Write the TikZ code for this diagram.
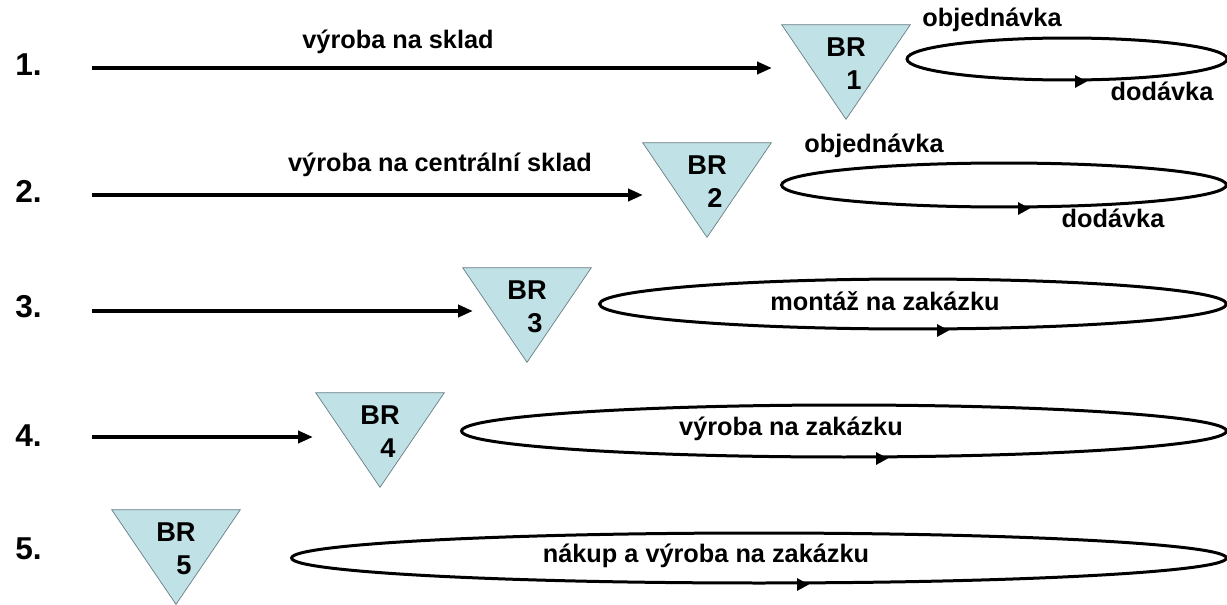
\documentclass[tikz,border=0pt]{standalone}
\usepackage{fontspec}
\setmainfont{Liberation Sans}
\usetikzlibrary{shapes.geometric,arrows.meta,calc}
\definecolor{stockfill}{RGB}{192,226,230}
\definecolor{stockline}{RGB}{105,125,132}

\begin{document}
\begin{tikzpicture}[
    x=0.02cm, y=-0.02cm,
    lbl/.style={font=\bfseries\fontsize{14.4}{17}\selectfont, anchor=base, inner sep=0pt},
    brlbl/.style={font=\bfseries\fontsize{15.5}{18}\selectfont, anchor=base, inner sep=0pt},
    rownum/.style={font=\bfseries\fontsize{18}{21}\selectfont, anchor=base west, inner sep=0pt},
    stock/.style={minimum width=2.56cm, minimum height=1.88cm, inner sep=0pt},
    ring/.style={ellipse, draw, line width=0.06cm, inner sep=0pt},
    arrow/.style={-{Triangle[length=0.3cm, width=0.24cm]}, line width=0.085cm},
    looptip/.style={-{Triangle[length=0.24cm, width=0.24cm]}, line width=0.06cm}
]
\useasboundingbox (0,0) rectangle (1227,605);

% row numbers
\foreach \i/\y in {1/75, 2/202, 3/317, 4/446, 5/559}
    \node[rownum] (num\i) at (15,\y) {\i.};

% decoupling points (stock triangles)
\foreach \i/\cx/\cy in {1/846/72, 2/707/190, 3/527/315, 4/380/440, 5/176/557} {
    \node[stock] (br\i) at (\cx,\cy) {};
    \draw[stockline, fill=stockfill] (br\i.north west) -- (br\i.north east) -- (br\i.south) -- cycle;
    \node[brlbl] at ($(br\i.north)+(0,32)$) {BR};
    \node[brlbl] at ($(br\i.north)+(8,65)$) {\i};
}

% flow into the stock
\foreach \i/\y/\x in {1/68/772, 2/195/643, 3/311/473, 4/437/313} {
    \coordinate (from\i) at (92,\y);
    \coordinate (to\i) at (\x,\y);
    \draw[arrow] (from\i) -- (to\i);
}

% order loops behind the stock
\foreach \i/\cx/\cy/\w/\h/\dx in {1/1067/59/6.4/0.84/20, 2/1004/185/8.9/0.88/26,
    3/913/304/12.54/1.0/36, 4/844/431/15.3/1.04/44, 5/759/558/18.7/1.0/50} {
    \node[ring, minimum width=\w cm, minimum height=\h cm] (ring\i) at (\cx,\cy) {};
    \draw[looptip] ($(ring\i.south)+(\dx-12,0)$) -- ($(ring\i.south)+(\dx,0)$);
}

\node[lbl] at (398,48) {výroba na sklad};
\node[lbl] at (440,171) {výroba na centrální sklad};
\node[lbl] at (992,27) {objednávka};
\node[lbl] at (1162,100) {dodávka};
\node[lbl] at (874,152) {objednávka};
\node[lbl] at (1113,227) {dodávka};
\node[lbl] at (885,310) {montáž na zakázku};
\node[lbl] at (791,435) {výroba na zakázku};
\node[lbl] at (706,562) {nákup a výroba na zakázku};
\end{tikzpicture}
\end{document}
